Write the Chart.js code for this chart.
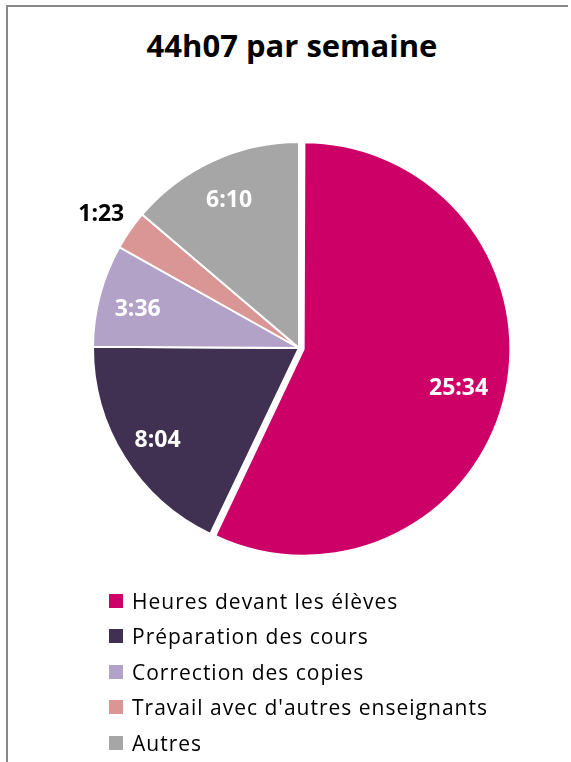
<!DOCTYPE html>
<html>
<head>
<meta charset="utf-8">
<script src="https://cdn.jsdelivr.net/npm/chart.js@4.4.1/dist/chart.umd.min.js"></script>
<style>
    html, body { margin: 0; background: #fff; overflow: hidden; }
    #frame { position: absolute; left: 6px; top: 5px; width: 560px; height: 757px; border-top: 2px solid #898989; border-left: 2px solid #898989; }
    #title { position: absolute; left: 0; top: 30px; width: 584px; text-align: center; font: bold 31px 'Open Sans'; line-height: 31px; color: #000; }
    #chart { position: absolute; left: 0; top: 0; }
    #legend { position: absolute; left: 109px; top: 583px; font: 21px 'Open Sans'; letter-spacing: 1px; color: #000; }
    .item { height: 35.5px; display: flex; align-items: center; }
    .box { width: 14px; height: 14px; margin-right: 9px; }
</style>
</head>
<body>
<div id="frame"></div>
<div id="title">44h07 par semaine</div>
<canvas id="chart" width="571" height="600"></canvas>
<div id="legend"></div>

<script>
const categories = [
    'Heures devant les élèves',
    'Préparation des cours',
    'Correction des copies',
    "Travail avec d'autres enseignants",
    'Autres'
];
// minutes par semaine : 25:34, 8:04, 3:36, 1:23, 6:10
const minutes = [1534, 484, 216, 83, 370];

const COLORS = ['#CC0066', '#403152', '#B2A2C7', '#D99694', '#A6A6A6'];
const EXPLODE = [19, 0, 0, 0, 0];

function fmt(m) {
    return Math.floor(m / 60) + ':' + String(m % 60).padStart(2, '0');
}

// étiquettes h:mm sur les parts (+ part détachée un peu plus petite, comme Excel)
const sliceLabels = {
    id: 'sliceLabels',
    afterDatasetUpdate(chart, args) {
        const arc = args.meta.data[0];
        if (arc) arc.outerRadius -= 4;
    },
    afterDatasetsDraw(chart) {
        const ctx = chart.ctx;
        const meta = chart.getDatasetMeta(0);
        const total = minutes.reduce((a, b) => a + b, 0);
        ctx.save();
        ctx.font = 'bold 23px "Open Sans"';
        ctx.textAlign = 'center';
        ctx.textBaseline = 'middle';
        meta.data.forEach((arc, i) => {
            const p = arc.getProps(['x', 'y', 'startAngle', 'endAngle', 'outerRadius'], true);
            const mid = (p.startAngle + p.endAngle) / 2;
            const outside = minutes[i] / total < 0.05;
            const dist = p.outerRadius * (outside ? 1.17 : 0.81);
            ctx.fillStyle = outside ? '#000' : '#fff';
            ctx.fillText(fmt(minutes[i]), p.x + Math.cos(mid) * dist, p.y + Math.sin(mid) * dist + 4);
        });
        ctx.restore();
    }
};

new Chart(document.getElementById('chart'), {
    type: 'pie',
    data: {
        labels: categories,
        datasets: [{
            data: minutes,
            backgroundColor: COLORS,
            borderColor: '#fff',
            borderWidth: 2,
            offset: EXPLODE,
            radius: 206
        }]
    },
    options: {
        responsive: false,
        animation: false,
        layout: { padding: { left: 40, right: 13, top: 110, bottom: 14 } },
        plugins: {
            legend: { display: false },
            title: { display: false },
            tooltip: { enabled: false }
        }
    },
    plugins: [sliceLabels]
});

const legend = document.getElementById('legend');
categories.forEach((name, i) => {
    const row = document.createElement('div');
    row.className = 'item';
    row.innerHTML = `<span class="box" style="background:${COLORS[i]}"></span><span>${name}</span>`;
    legend.appendChild(row);
});
</script>
</body>
</html>
